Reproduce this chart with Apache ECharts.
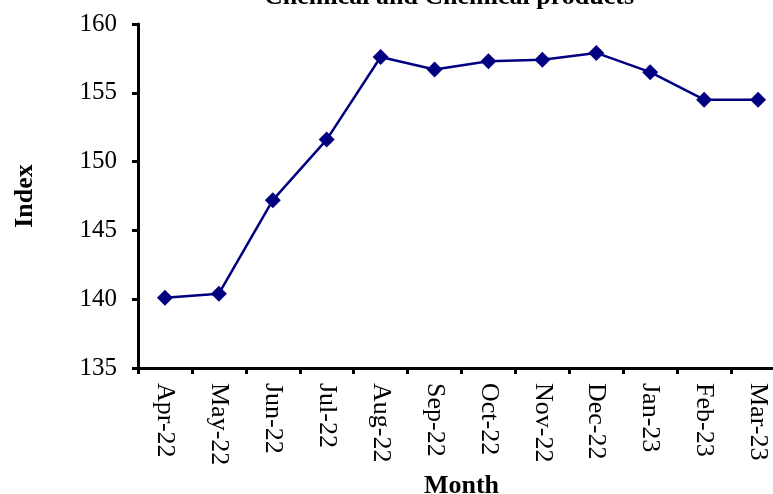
<!DOCTYPE html>
<html>
<head>
<meta charset="utf-8">
<script src="https://cdn.jsdelivr.net/npm/echarts@6/dist/echarts.min.js"></script>
<style>html,body{margin:0;padding:0;background:#fff;}#c{width:773px;height:494px;}</style>
</head>
<body>
<div id="c"></div>
<script>
const titleText = "Chemical and Chemical products";
const months = ["Apr-22","May-22","Jun-22","Jul-22","Aug-22","Sep-22","Oct-22","Nov-22","Dec-22","Jan-23","Feb-23","Mar-23"];
const indexValues = [140.1, 140.4, 147.2, 151.6, 157.6, 156.7, 157.3, 157.4, 157.9, 156.5, 154.5, 154.5];
const yTicks = { min: 135, max: 160, interval: 5 };

const serif = "'Liberation Serif', 'Times New Roman', serif";
const chart = echarts.init(document.getElementById('c'));
chart.setOption({
  backgroundColor: '#ffffff',
  animation: false,
  title: {
    text: titleText,
    left: 259,
    top: -21,
    textStyle: { fontFamily: serif, fontWeight: 'bold', fontSize: 26, color: '#000' }
  },
  grid: { left: 138, top: 24, width: 647, height: 344, containLabel: false, outerBoundsMode: 'none' },
  xAxis: {
    type: 'category',
    data: months,
    name: 'Month',
    nameLocation: 'middle',
    nameGap: 97,
    nameTextStyle: { fontFamily: serif, fontWeight: 'bold', fontSize: 26, color: '#000' },
    axisLine: { lineStyle: { color: '#000', width: 3 } },
    axisTick: { show: true, length: 6, lineStyle: { color: '#000', width: 3 } },
    axisLabel: { rotate: -90, margin: 15, fontFamily: serif, fontSize: 26, color: '#000' },
    splitLine: { show: false }
  },
  yAxis: {
    type: 'value',
    min: yTicks.min,
    max: yTicks.max,
    interval: yTicks.interval,
    name: 'Index',
    nameLocation: 'middle',
    nameRotate: 90,
    nameGap: 100,
    nameTextStyle: { fontFamily: serif, fontWeight: 'bold', fontSize: 26, color: '#000' },
    axisLine: { show: true, lineStyle: { color: '#000', width: 3 } },
    axisTick: { show: true, length: 6, lineStyle: { color: '#000', width: 3 } },
    axisLabel: { margin: 21, fontFamily: serif, fontSize: 25, color: '#000' },
    splitLine: { show: false }
  },
  series: [{
    type: 'line',
    data: indexValues,
    symbol: 'diamond',
    symbolSize: 16,
    lineStyle: { color: '#000080', width: 2.5 },
    itemStyle: { color: '#000080' }
  }]
});
</script>
</body>
</html>
